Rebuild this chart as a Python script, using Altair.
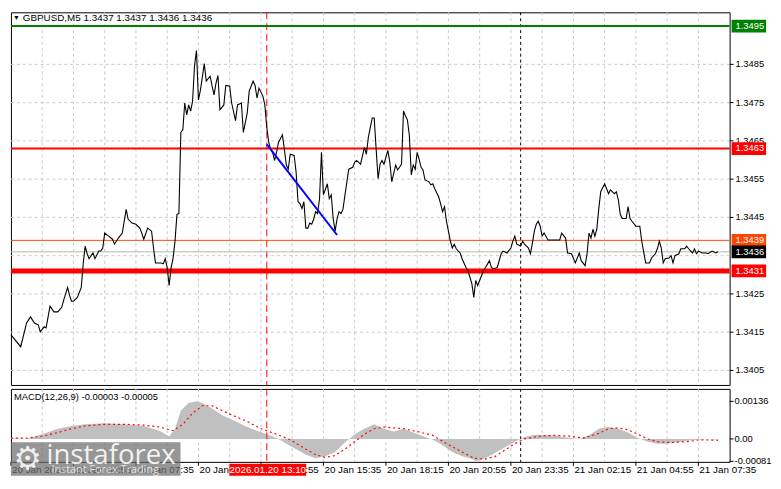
import altair as alt
import pandas as pd

# ---------------- data ----------------
symbol_title = "GBPUSD,M5  1.3437 1.3437 1.3436 1.3436"
macd_title = "MACD(12,26,9) -0.00003 -0.00005"

# 5-minute bars counted from 20 Jan 02:15
price_bar = [0, 5, 8, 10, 12, 14, 15, 17, 18, 20, 22, 24, 26, 27, 29, 30, 31, 32, 34, 36, 37, 38, 39, 40, 42, 43, 45, 46, 47, 48,
             50, 52, 53, 55, 57, 59, 60, 62, 64, 66, 67, 68, 70, 72, 73, 74, 77, 78, 79, 80, 81, 82, 83, 84, 85, 86, 87, 88, 89, 90,
             91, 92, 93, 94, 95, 96, 97, 99, 100, 102, 103, 104, 105, 106, 107, 109, 110, 112, 113, 115, 116, 118, 119, 121, 122, 124, 125, 126, 127, 129,
             130, 131, 132, 133, 134, 135, 136, 137, 139, 140, 141, 142, 143, 145, 146, 147, 148, 149, 150, 151, 152, 153, 154, 155, 156, 157, 158, 159, 160, 162,
             163, 164, 165, 166, 167, 168, 169, 170, 172, 173, 175, 176, 177, 179, 181, 182, 183, 185, 186, 187, 188, 189, 190, 191, 193, 194, 195, 197, 198, 200,
             201, 202, 203, 204, 205, 206, 207, 208, 209, 210, 211, 212, 214, 215, 216, 217, 219, 220, 221, 222, 223, 225, 226, 227, 228, 230, 231, 233, 234, 236,
             237, 238, 239, 240, 242, 243, 245, 246, 247, 249, 251, 252, 254, 256, 257, 258, 259, 261, 262, 263, 265, 266, 267, 268, 269, 270, 271, 272, 273, 275,
             278, 281, 282, 284, 285, 287, 289, 290, 291, 292, 294, 295, 296, 297, 298, 299, 300, 301, 302, 304, 305, 306, 307, 309, 310, 311, 312, 313, 315, 316,
             317, 318, 320, 322, 323, 325, 327, 328, 330, 331, 332, 333, 334, 335, 337, 338, 339, 340, 342, 343, 345, 346, 347, 349, 350, 351, 352, 354, 356, 357,
             359, 361, 362]
price_close = [1.34143, 1.34112, 1.34174, 1.34190, 1.34174, 1.34169, 1.34151, 1.34164, 1.34161, 1.34218, 1.34203, 1.34203, 1.34215, 1.34234, 1.34267, 1.34246, 1.34231, 1.34231, 1.34241, 1.34267, 1.34329, 1.34375, 1.34355, 1.34342, 1.34357, 1.34342, 1.34362, 1.34362, 1.34370, 1.34409,
               1.34401, 1.34393, 1.34380, 1.34396, 1.34409, 1.34471, 1.34445, 1.34435, 1.34432, 1.34422, 1.34409, 1.34393, 1.34422, 1.34414, 1.34370, 1.34331, 1.34331, 1.34329, 1.34342, 1.34319, 1.34272, 1.34319, 1.34342, 1.34388, 1.34458, 1.34460, 1.34672, 1.34679, 1.34749, 1.34718,
               1.34744, 1.34728, 1.34754, 1.34847, 1.34886, 1.34757, 1.34782, 1.34852, 1.34806, 1.34819, 1.34793, 1.34770, 1.34801, 1.34821, 1.34731, 1.34744, 1.34795, 1.34793, 1.34749, 1.34703, 1.34744, 1.34749, 1.34672, 1.34723, 1.34780, 1.34806, 1.34795, 1.34762, 1.34788, 1.34767,
               1.34744, 1.34685, 1.34646, 1.34628, 1.34620, 1.34599, 1.34620, 1.34646, 1.34666, 1.34628, 1.34587, 1.34576, 1.34615, 1.34612, 1.34569, 1.34491, 1.34486, 1.34473, 1.34491, 1.34422, 1.34422, 1.34435, 1.34432, 1.34445, 1.34465, 1.34460, 1.34499, 1.34620, 1.34509, 1.34538,
               1.34499, 1.34509, 1.34447, 1.34414, 1.34447, 1.34465, 1.34460, 1.34471, 1.34543, 1.34576, 1.34581, 1.34594, 1.34599, 1.34589, 1.34633, 1.34615, 1.34659, 1.34710, 1.34710, 1.34628, 1.34551, 1.34589, 1.34599, 1.34589, 1.34625, 1.34594, 1.34543, 1.34587, 1.34574, 1.34589,
               1.34728, 1.34715, 1.34705, 1.34664, 1.34561, 1.34587, 1.34576, 1.34620, 1.34602, 1.34581, 1.34574, 1.34548, 1.34543, 1.34535, 1.34538, 1.34525, 1.34504, 1.34486, 1.34465, 1.34478, 1.34440, 1.34388, 1.34370, 1.34380, 1.34368, 1.34357, 1.34342, 1.34319, 1.34311, 1.34277,
               1.34241, 1.34285, 1.34272, 1.34285, 1.34311, 1.34319, 1.34337, 1.34319, 1.34316, 1.34319, 1.34355, 1.34362, 1.34357, 1.34370, 1.34388, 1.34401, 1.34380, 1.34375, 1.34388, 1.34380, 1.34370, 1.34355, 1.34383, 1.34414, 1.34432, 1.34440, 1.34427, 1.34401, 1.34409, 1.34391,
               1.34391, 1.34391, 1.34409, 1.34396, 1.34357, 1.34355, 1.34331, 1.34344, 1.34357, 1.34337, 1.34324, 1.34355, 1.34409, 1.34396, 1.34419, 1.34401, 1.34419, 1.34473, 1.34517, 1.34538, 1.34525, 1.34512, 1.34522, 1.34512, 1.34517, 1.34496, 1.34458, 1.34447, 1.34447, 1.34478,
               1.34447, 1.34440, 1.34427, 1.34427, 1.34388, 1.34331, 1.34331, 1.34344, 1.34355, 1.34368, 1.34388, 1.34370, 1.34331, 1.34342, 1.34344, 1.34350, 1.34331, 1.34350, 1.34355, 1.34368, 1.34368, 1.34375, 1.34368, 1.34357, 1.34368, 1.34355, 1.34362, 1.34357, 1.34357, 1.34355,
               1.34362, 1.34357, 1.34360]

macd_bar = [0, 8, 16, 24, 31, 38, 48, 58, 68, 76, 81, 84, 87, 91, 95, 98, 103, 108, 113, 121, 126, 131, 136, 141, 146, 151, 156, 161, 166, 171,
            176, 181, 186, 191, 196, 201, 206, 211, 216, 221, 226, 231, 236, 238, 243, 248, 253, 258, 263, 268, 276, 281, 286, 291, 296, 301, 306, 311, 316, 321,
            326, 331, 336, 341, 346, 351, 356, 362]
macd_hist = [0.00003, 0.0, 0.00017, 0.00037, 0.00047, 0.00053, 0.00057, 0.00053, 0.00047, 0.00030, 0.00010, 0.00037, 0.00103, 0.00130, 0.00136, 0.00130, 0.00110, 0.00087, 0.00070, 0.00043, 0.00030, 0.00017, 0.00003, -0.00017, -0.00037, -0.00057, -0.00070, -0.00063, -0.00047, -0.00013,
             0.00017, 0.00037, 0.00053, 0.00037, 0.00027, 0.00037, 0.00023, 0.00010, -0.00003, -0.00023, -0.00047, -0.00063, -0.00073, -0.00081, -0.00070, -0.00050, -0.00030, -0.00010, 0.00007, 0.00015, 0.00013, 0.00010, 0.00003, 0.0, 0.00013, 0.00037, 0.00043, 0.00037, 0.00023, 0.00003,
             -0.00010, -0.00017, -0.00017, -0.00013, -0.00007, -0.00003, 0.0, -0.00003]

signal_bar = [0, 8, 16, 24, 31, 38, 48, 58, 68, 76, 83, 88, 93, 98, 103, 108, 113, 121, 128, 136, 143, 151, 156, 161, 166, 171, 176, 181, 186, 191,
              196, 201, 208, 216, 223, 231, 237, 243, 248, 253, 258, 263, 271, 278, 286, 293, 301, 306, 311, 316, 321, 326, 331, 338, 346, 353, 362]
signal_val = [0.00003, 0.00003, 0.00010, 0.00023, 0.00037, 0.00047, 0.00053, 0.00053, 0.00050, 0.00043, 0.00030, 0.00053, 0.00093, 0.00120, 0.00120, 0.00103, 0.00087, 0.00063, 0.00037, 0.00017, -0.00003, -0.00037, -0.00057, -0.00067, -0.00060, -0.00037, -0.00010, 0.00017, 0.00037, 0.00043,
              0.00040, 0.00037, 0.00027, 0.00013, -0.00017, -0.00047, -0.00070, -0.00073, -0.00063, -0.00040, -0.00017, 0.0, 0.00010, 0.00013, 0.00010, 0.00003, 0.00020, 0.00037, 0.00040, 0.00033, 0.00017, 0.0, -0.00010, -0.00013, -0.00010, -0.00003, -0.00005]

time_tick_bars = [0, 32, 64, 96, 128, 160, 192, 224, 256, 288, 320, 352]
time_tick_labels = ["20 Jan 2026", "20 Jan 04:55", "20 Jan 07:35", "20 Jan 10:15", "20 Jan 12:55", "20 Jan 15:35",
                    "20 Jan 18:15", "20 Jan 20:55", "20 Jan 23:35", "21 Jan 02:15", "21 Jan 04:55", "21 Jan 07:35"]
grid_bars = [16, 32, 48, 64, 80, 96, 112, 128, 144, 160, 176, 192, 208, 224, 240, 256, 272, 288, 304, 320, 336, 352]

price_tick_values = [1.3485, 1.3475, 1.3465, 1.3455, 1.3445, 1.3425, 1.3415, 1.3405]
price_tick_labels = ["1.3485", "1.3475", "1.3465", "1.3455", "1.3445", "1.3425", "1.3415", "1.3405"]
price_grid_levels = [1.3405, 1.3415, 1.3425, 1.3435, 1.3445, 1.3455, 1.3465, 1.3475, 1.3485, 1.3495]

level_values = [1.3495, 1.3463, 1.3439, 1.3436, 1.3431]
level_labels = ["1.3495", "1.3463", "1.3439", "1.3436", "1.3431"]
level_colors = ["#008000", "#ff0000", "#ff4500", "#b4b4b4", "#ff0000"]
level_box_colors = ["#008000", "#ff0000", "#ff4500", "#000000", "#ff0000"]
level_widths = [2, 2, 1, 1, 5]

trend_bars = [131, 167]
trend_prices = [1.34641, 1.34404]
cursor_bar = 131
cursor_label = "2026.01.20 13:10"
day_separator_bar = 261

macd_tick_values = [0.00136, 0.0, -0.00081]
macd_tick_labels = ["0.00136", "0.00", "-0.00081"]

# ---------------- chart ----------------
W = 729
H_MAIN = 378
H_MACD = 74
FONT = "Liberation Sans"
FS = 10
FSR = 9.5  # right-hand price scale

xs = alt.Scale(domain=[0, 368], nice=False, zero=False)
ys = alt.Scale(domain=[1.34012, 1.34986], nice=False, zero=False)
ms = alt.Scale(domain=[-0.00083, 0.001810], nice=False, zero=False)

one = pd.DataFrame({"a": [0]})


def xq(field):
    return alt.X(field, type="quantitative", scale=xs, axis=None)


def yp(field):
    return alt.Y(field, type="quantitative", scale=ys, axis=None)


def ym(field):
    return alt.Y(field, type="quantitative", scale=ms, axis=None)


grid_v = pd.DataFrame({"bar": grid_bars})
grid_h = pd.DataFrame({"price": price_grid_levels})
levels = pd.DataFrame({"level": level_values, "label": level_labels, "color": level_colors,
                       "box": level_box_colors, "w": level_widths})
pticks = pd.DataFrame({"price": price_tick_values, "label": price_tick_labels})
tticks = pd.DataFrame({"bar": time_tick_bars, "label": time_tick_labels})
mticks = pd.DataFrame({"v": macd_tick_values, "label": macd_tick_labels})

GRID = dict(color="#c8c8c8", strokeDash=[3, 3], strokeWidth=1)

# ---- main price panel ----
vgrid_main = alt.Chart(grid_v).mark_rule(**GRID).encode(x=xq("bar"))
hgrid_main = alt.Chart(grid_h).mark_rule(**GRID).encode(y=yp("price"))

level_lines = alt.Chart(levels).mark_rule().encode(
    y=yp("level"),
    color=alt.Color("color:N", scale=None),
    strokeWidth=alt.StrokeWidth("w:Q", scale=None),
)

cursor_main = alt.Chart(pd.DataFrame({"bar": [cursor_bar]})).mark_rule(
    color="#ff0000", strokeDash=[7, 4], strokeWidth=1).encode(x=xq("bar"))
sep_main = alt.Chart(pd.DataFrame({"bar": [day_separator_bar]})).mark_rule(
    color="#000000", strokeDash=[3, 3], strokeWidth=1).encode(x=xq("bar"))

price_line = alt.Chart(pd.DataFrame({"bar": price_bar, "price": price_close})).mark_line(
    color="black", strokeWidth=1.1).encode(x=xq("bar"), y=yp("price"))

trend = alt.Chart(pd.DataFrame({"bar": trend_bars, "price": trend_prices})).mark_line(
    color="#0000ff", strokeWidth=2).encode(x=xq("bar"), y=yp("price"))

ptick_marks = alt.Chart(pticks).mark_rule(color="black", strokeWidth=1).encode(
    x=alt.value(W), x2=alt.value(W + 4), y=yp("price"))
ptick_text = alt.Chart(pticks).mark_text(align="left", baseline="middle", color="black",
                                         font=FONT, fontSize=FSR).encode(
    x=alt.value(W + 6), y=yp("price"), text="label:N")

label_boxes = alt.Chart(levels).mark_rect(yOffset=-6.5, y2Offset=6.5).encode(
    x=alt.value(W + 2), x2=alt.value(W + 37),
    y=yp("level"), y2="level:Q",
    color=alt.Color("box:N", scale=None),
)
label_text = alt.Chart(levels).mark_text(align="left", baseline="middle", color="white",
                                         font=FONT, fontSize=FSR).encode(
    x=alt.value(W + 6), y=yp("level"), text="label:N")

title_tri = alt.Chart(one).mark_text(text="▼", align="left", baseline="middle", fontSize=7,
                                     color="black").encode(x=alt.value(2), y=alt.value(6))
title_txt = alt.Chart(one).mark_text(text=symbol_title, align="left", baseline="middle", font=FONT,
                                     fontSize=FS, color="black").encode(x=alt.value(12), y=alt.value(6))

main = alt.layer(vgrid_main, hgrid_main, cursor_main, sep_main, level_lines, price_line, trend,
                 ptick_marks, ptick_text, label_boxes, label_text, title_tri, title_txt
                 ).properties(width=W, height=H_MAIN)

# ---- MACD panel ----
vgrid_macd = alt.Chart(grid_v).mark_rule(**GRID).encode(x=xq("bar"))

hist = alt.Chart(pd.DataFrame({"bar": macd_bar, "v": macd_hist})).mark_area(color="#c0c0c0").encode(
    x=xq("bar"), y=ym("v"), y2=alt.datum(0))

signal = alt.Chart(pd.DataFrame({"bar": signal_bar, "v": signal_val})).mark_line(
    color="#ff0000", strokeDash=[2, 3], strokeWidth=1.2).encode(x=xq("bar"), y=ym("v"))

cursor_macd = alt.Chart(pd.DataFrame({"bar": [cursor_bar]})).mark_rule(
    color="#ff0000", strokeDash=[7, 4], strokeWidth=1).encode(x=xq("bar"))
sep_macd = alt.Chart(pd.DataFrame({"bar": [day_separator_bar]})).mark_rule(
    color="#000000", strokeDash=[3, 3], strokeWidth=1).encode(x=xq("bar"))

macd_txt = alt.Chart(one).mark_text(text=macd_title, align="left", baseline="middle", font=FONT,
                                    fontSize=FS - 0.5, color="black").encode(x=alt.value(3), y=alt.value(8))

mtick_marks = alt.Chart(mticks).mark_rule(color="black", strokeWidth=1).encode(
    x=alt.value(W), x2=alt.value(W + 4), y=ym("v"))
mtick_text = alt.Chart(mticks).mark_text(align="left", baseline="middle", color="black",
                                         font=FONT, fontSize=FSR).encode(
    x=alt.value(W + 5), y=ym("v"), text="label:N")

ttick_marks = alt.Chart(tticks).mark_rule(color="black", strokeWidth=1).encode(
    x=xq("bar"), y=alt.value(H_MACD), y2=alt.value(H_MACD + 4))
ttick_text = alt.Chart(tticks).mark_text(align="left", baseline="middle", color="black",
                                         font=FONT, fontSize=FS, dx=1).encode(
    x=xq("bar"), y=alt.value(H_MACD + 8), text="label:N")

cursor_df = pd.DataFrame({"bar": [cursor_bar], "label": [cursor_label]})
cursor_box = alt.Chart(cursor_df).mark_rect(color="#ff0000", xOffset=-38, x2Offset=40).encode(
    x=xq("bar"), x2="bar:Q", y=alt.value(H_MACD + 2), y2=alt.value(H_MACD + 14))
cursor_txt = alt.Chart(cursor_df).mark_text(color="white", font=FONT, fontSize=FS, baseline="middle",
                                            dx=1).encode(
    x=xq("bar"), y=alt.value(H_MACD + 8), text="label:N")

wm_box = alt.Chart(one).mark_rect(color="#6e6e6e", opacity=0.72).encode(
    x=alt.value(0), x2=alt.value(172), y=alt.value(H_MACD - 20), y2=alt.value(H_MACD + 14))
wm_gear = alt.Chart(one).mark_text(text="⚙", font="DejaVu Sans", fontSize=32, color="white", opacity=0.85,
                                   baseline="middle", align="center").encode(
    x=alt.value(17), y=alt.value(H_MACD - 3))
wm_name = alt.Chart(one).mark_text(text="instaforex", font="Open Sans", fontSize=28, color="white",
                                   opacity=0.88, align="left", baseline="alphabetic").encode(
    x=alt.value(36), y=alt.value(H_MACD + 2))
wm_tag = alt.Chart(one).mark_text(text="Instant Forex Trading", font="Open Sans", fontSize=11, color="white",
                                  opacity=0.75, align="left", baseline="middle").encode(
    x=alt.value(41), y=alt.value(H_MACD + 8))

macd = alt.layer(vgrid_macd, hist, signal, cursor_macd, sep_macd, macd_txt, mtick_marks, mtick_text,
                 ttick_marks, ttick_text, cursor_box, cursor_txt,
                 wm_box, wm_gear, wm_name, wm_tag).properties(width=W, height=H_MACD)

chart = alt.vconcat(main, macd, spacing=2).properties(
    padding={"left": 0, "top": 0, "right": 0, "bottom": 0}, background="white"
).configure_view(stroke="black", strokeWidth=1).configure_text(font=FONT)

chart.save("out.html", embed_options={"renderer": "svg", "actions": False})
